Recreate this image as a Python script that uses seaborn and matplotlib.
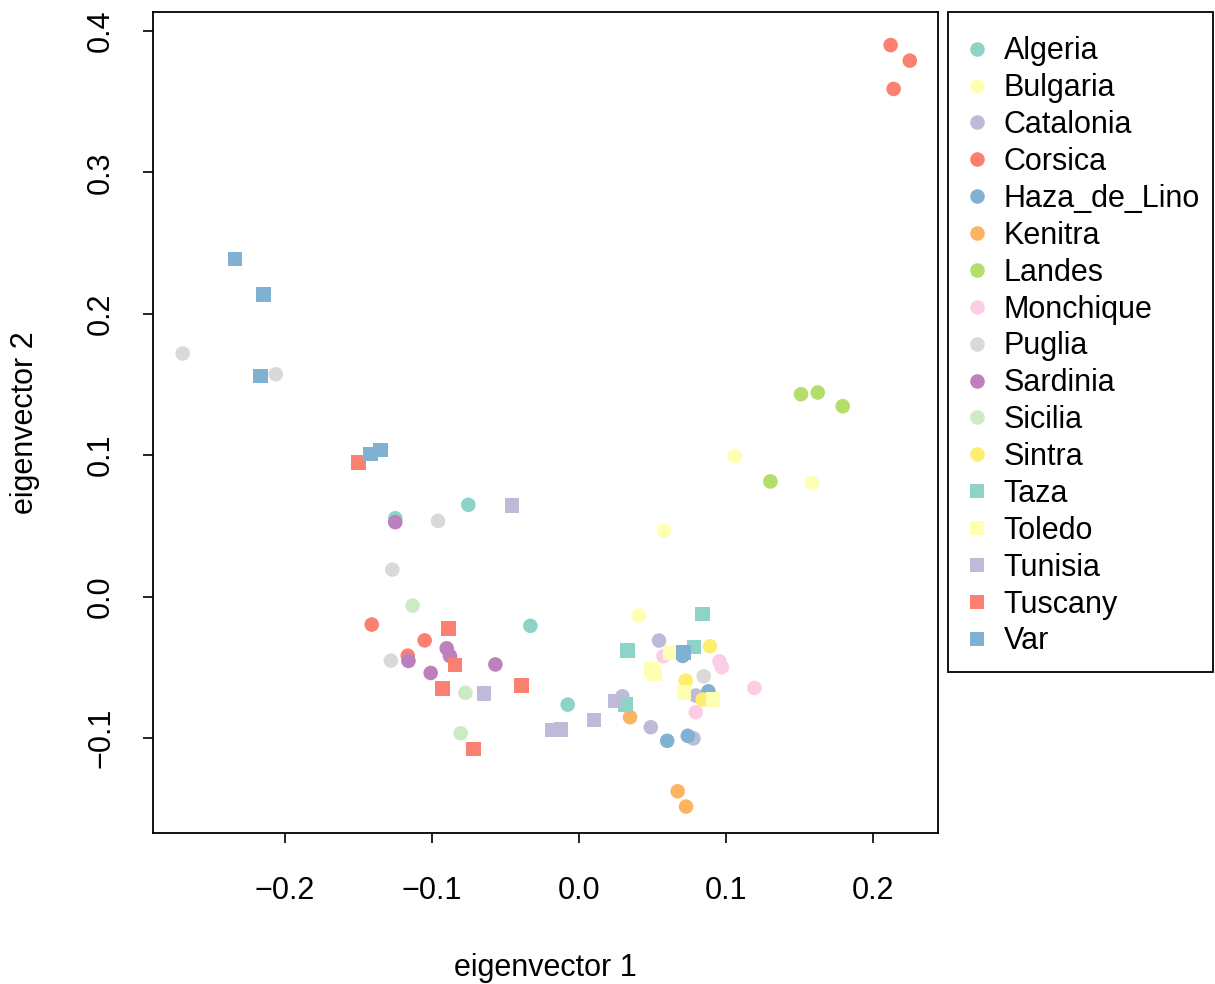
import matplotlib
matplotlib.use("Agg")
import matplotlib.pyplot as plt
from matplotlib.patches import Rectangle
import seaborn as sns
import pandas as pd

groups = ["Algeria", "Bulgaria", "Catalonia", "Corsica", "Haza_de_Lino", "Kenitra",
          "Landes", "Monchique", "Puglia", "Sardinia", "Sicilia", "Sintra",
          "Taza", "Toledo", "Tunisia", "Tuscany", "Var"]
colors = ["#8DD3C7", "#FFFFB3", "#BEBADA", "#FB8072", "#80B1D3", "#FDB462",
          "#B3DE69", "#FCCDE5", "#D9D9D9", "#BC80BD", "#CCEBC5", "#FFED6F",
          "#8DD3C7", "#FFFFB3", "#BEBADA", "#FB8072", "#80B1D3"]
shapes = ["o"] * 12 + ["s"] * 5

pts = {
    "Algeria": ([-0.125, -0.0753, -0.0331, -0.0077], [0.0554, 0.0649, -0.0207, -0.0764]),
    "Bulgaria": ([0.106, 0.1585, 0.0578, 0.0408], [0.0993, 0.0802, 0.0467, -0.0134]),
    "Catalonia": ([0.0544, 0.0295, 0.0488, 0.0778, 0.0794], [-0.0311, -0.0705, -0.0924, -0.1003, -0.070]),
    "Corsica": ([0.212, 0.225, 0.214, -0.141, -0.105, -0.1165], [0.390, 0.379, 0.359, -0.0198, -0.031, -0.0418]),
    "Haza_de_Lino": ([0.088, 0.060, 0.074, 0.0705], [-0.067, -0.102, -0.0985, -0.042]),
    "Kenitra": ([0.0347, 0.0671, 0.0728], [-0.0853, -0.1377, -0.1485]),
    "Landes": ([0.151, 0.1624, 0.1794, 0.1302], [0.1431, 0.1443, 0.1346, 0.0814]),
    "Monchique": ([0.0574, 0.0955, 0.0971, 0.0794, 0.1193], [-0.0422, -0.0458, -0.0499, -0.0818, -0.0646]),
    "Puglia": ([-0.2696, -0.2063, -0.0959, -0.127, -0.128, 0.0848], [0.1719, 0.1572, 0.0535, 0.0191, -0.0453, -0.0564]),
    "Sardinia": ([-0.125, -0.090, -0.0878, -0.116, -0.1009, -0.0569], [0.0526, -0.0366, -0.042, -0.0455, -0.054, -0.048]),
    "Sicilia": ([-0.1132, -0.0773, -0.0805], [-0.0064, -0.0681, -0.0967]),
    "Sintra": ([0.0891, 0.0726, 0.0841], [-0.0351, -0.0594, -0.0728]),
    "Taza": ([0.0841, 0.0329, 0.0782, 0.0315], [-0.0122, -0.0382, -0.0358, -0.0762]),
    "Toledo": ([0.0624, 0.0494, 0.0512, 0.0714, 0.091], [-0.040, -0.0516, -0.0546, -0.068, -0.0727]),
    "Tunisia": ([-0.0456, -0.0646, -0.0184, -0.0122, 0.0102, 0.0245], [0.0643, -0.0684, -0.0945, -0.094, -0.0874, -0.074]),
    "Tuscany": ([-0.150, -0.0889, -0.0844, -0.0927, -0.0392, -0.0716], [0.0948, -0.0224, -0.0483, -0.065, -0.0627, -0.1078]),
    "Var": ([-0.234, -0.2145, -0.2166, -0.142, -0.135, 0.071], [0.2387, 0.2138, 0.156, 0.1009, 0.1037, -0.0395]),
}

x_ticks = [-0.2, -0.1, 0.0, 0.1, 0.2]
x_labels = ["\u22120.2", "\u22120.1", "0.0", "0.1", "0.2"]
y_ticks = [-0.1, 0.0, 0.1, 0.2, 0.3, 0.4]
y_labels = ["\u22120.1", "0.0", "0.1", "0.2", "0.3", "0.4"]

rows = []
for g in groups:
    xs, ys = pts[g]
    for a, b in zip(xs, ys):
        rows.append({"x": a, "y": b, "group": g})
df = pd.DataFrame(rows)

sns.set_style("white")
plt.rcParams["font.family"] = ["Liberation Sans", "DejaVu Sans"]
plt.rcParams["text.color"] = "black"
plt.rcParams["axes.labelcolor"] = "black"
plt.rcParams["xtick.color"] = "black"
plt.rcParams["ytick.color"] = "black"

W, H = 1215, 984
fig = plt.figure(figsize=(W / 100, H / 100), dpi=100)
ax = fig.add_axes([153 / W, 1 - 833 / H, (938 - 153) / W, (833 - 12) / H])

sns.scatterplot(data=df, x="x", y="y", hue="group", style="group",
                hue_order=groups, style_order=groups,
                palette=dict(zip(groups, colors)), markers=dict(zip(groups, shapes)),
                s=110, linewidth=0, ax=ax, legend=True)

ax.set_xlim(-0.2898, 0.2442)
ax.set_ylim(-0.1672, 0.4134)
ax.set_xticks(x_ticks, x_labels)
ax.set_yticks(y_ticks, y_labels)
for lab in ax.get_yticklabels():
    lab.set_rotation(90)
    lab.set_va("center")
ax.tick_params(axis="both", which="both", direction="out", length=7, width=1.2,
               labelsize=22, bottom=True, left=True, colors="black", labelcolor="black")
ax.tick_params(axis="x", pad=24)
ax.tick_params(axis="y", pad=19.5)
for sp in ax.spines.values():
    sp.set_visible(True)
    sp.set_color("black")
    sp.set_linewidth(1.3)
ax.set_xlabel("eigenvector 1", fontsize=22, labelpad=34, color="black")
ax.set_ylabel("eigenvector 2", fontsize=22, labelpad=33, color="black")

sns.move_legend(ax, loc="upper left", bbox_to_anchor=(961.7 / W, 1 - 36.4 / H),
                bbox_transform=fig.transFigure, title=None, frameon=False,
                fontsize=22, markerscale=1.0, borderpad=0, labelspacing=0.225,
                handlelength=1.0, handletextpad=0.38, borderaxespad=0)
leg = ax.get_legend()
for t in leg.get_texts():
    t.set_color("black")

# legend frame
fig.patches.append(Rectangle((948 / W, 1 - 672 / H), (1213 - 948) / W, (672 - 12) / H,
                             transform=fig.transFigure, fill=False, edgecolor="black",
                             linewidth=1.3, zorder=5))

fig.savefig("out.png", dpi=100, facecolor="white")
